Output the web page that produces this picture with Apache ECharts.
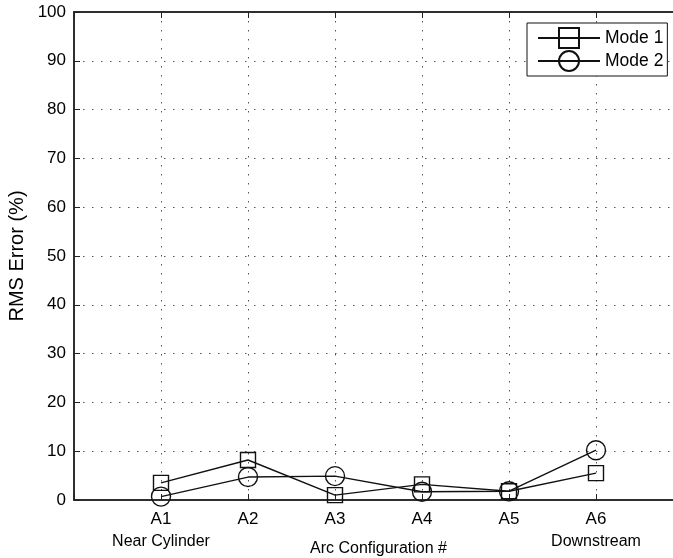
<!DOCTYPE html>
<html>
<head>
<meta charset="utf-8">
<script src="https://cdn.jsdelivr.net/npm/echarts@6/dist/echarts.min.js"></script>
<style>
  html, body { margin: 0; padding: 0; background: #fff; }
  #chart { width: 673px; height: 558px; }
</style>
</head>
<body>
<div id="chart"></div>
<script>
// values
var categories = ['A1', 'A2', 'A3', 'A4', 'A5', 'A6'];
var subLabels = ['Near Cylinder', '', '', '', '', 'Downstream'];
var mode1 = [3.5, 8.2, 1.0, 3.2, 1.8, 5.5];
var mode2 = [0.7, 4.7, 4.9, 1.7, 1.8, 10.2];
var yTicks = [0, 10, 20, 30, 40, 50, 60, 70, 80, 90, 100];

var font = 'Liberation Sans, Arial, Helvetica, sans-serif';
var gridDots = { color: '#555', type: [1.5, 7.5], width: 1 };

function pairs(vals) {
  return vals.map(function (v, i) { return [i + 1, v]; });
}

var chart = echarts.init(document.getElementById('chart'));

var option = {
  animation: false,
  backgroundColor: '#fff',
  textStyle: { fontFamily: font, color: '#000' },
  grid: {
    left: 74,
    top: 12,
    width: 609,   // plot runs past the right edge of the picture
    bottom: 58,
    outerBoundsMode: 'none',
    containLabel: false,
    show: true,
    borderColor: '#222',
    borderWidth: 1.5
  },
  legend: {
    orient: 'vertical',
    left: 527,
    top: 23,
    backgroundColor: '#fff',
    borderColor: '#111',
    borderWidth: 1,
    borderRadius: 0,
    padding: [4, 4, 4, 10],
    itemGap: 1,
    itemWidth: 62,
    itemHeight: 25,
    textStyle: { fontFamily: font, fontSize: 17.5, color: '#000' },
    data: ['Mode 1', 'Mode 2']
  },
  xAxis: [{
    type: 'value',
    min: 0,
    max: 7,
    interval: 1,
    name: 'Arc Configuration #',
    nameLocation: 'middle',
    nameGap: 41,
    nameMoveOverlap: false,
    nameTextStyle: { fontFamily: font, fontSize: 16, color: '#000' },
    axisLine: { show: true, onZero: false, lineStyle: { color: '#222', width: 1.5 } },
    axisTick: { show: true, inside: true, length: 6, lineStyle: { color: '#222' } },
    axisLabel: {
      margin: 9,
      color: '#000',
      fontFamily: font,
      formatter: function (v) {
        var i = v - 1;
        if (i < 0 || i >= categories.length) return '';
        return subLabels[i] ? '{a|' + categories[i] + '}\n{b|' + subLabels[i] + '}' : '{a|' + categories[i] + '}';
      },
      rich: {
        a: { fontSize: 17, lineHeight: 20, fontFamily: font, color: '#000' },
        b: { fontSize: 16, lineHeight: 26, fontFamily: font, color: '#000' }
      }
    },
    splitLine: { show: true, lineStyle: gridDots }
  }, {
    type: 'value',
    position: 'top',
    min: 0,
    max: 7,
    interval: 1,
    axisLine: { show: true, onZero: false, lineStyle: { color: '#222', width: 1.5 } },
    axisTick: { show: true, inside: true, length: 6, lineStyle: { color: '#222' } },
    axisLabel: { show: false },
    splitLine: { show: false }
  }],
  yAxis: {
    type: 'value',
    min: yTicks[0],
    max: yTicks[yTicks.length - 1],
    interval: 10,
    name: 'RMS Error (%)',
    nameLocation: 'middle',
    nameGap: 47,
    nameMoveOverlap: false,
    nameTextStyle: { fontFamily: font, fontSize: 20, color: '#000' },
    axisLine: { show: true, onZero: false, lineStyle: { color: '#222', width: 1.5 } },
    axisTick: { show: true, inside: true, length: 6, lineStyle: { color: '#222' } },
    axisLabel: { margin: 8, fontSize: 17, color: '#000', fontFamily: font },
    splitLine: { show: true, lineStyle: gridDots }
  },
  series: [{
    name: 'Mode 1',
    type: 'line',
    data: pairs(mode1),
    symbol: 'rect',
    symbolSize: 15,
    itemStyle: { color: 'transparent', borderColor: '#111', borderWidth: 1.4 },
    lineStyle: { color: '#111', width: 1.4 },
    z: 3
  }, {
    name: 'Mode 2',
    type: 'line',
    data: pairs(mode2),
    symbol: 'circle',
    symbolSize: 19,
    itemStyle: { color: 'transparent', borderColor: '#111', borderWidth: 1.4 },
    lineStyle: { color: '#111', width: 1.4 },
    z: 3
  }]
};

chart.setOption(option);
</script>
</body>
</html>
